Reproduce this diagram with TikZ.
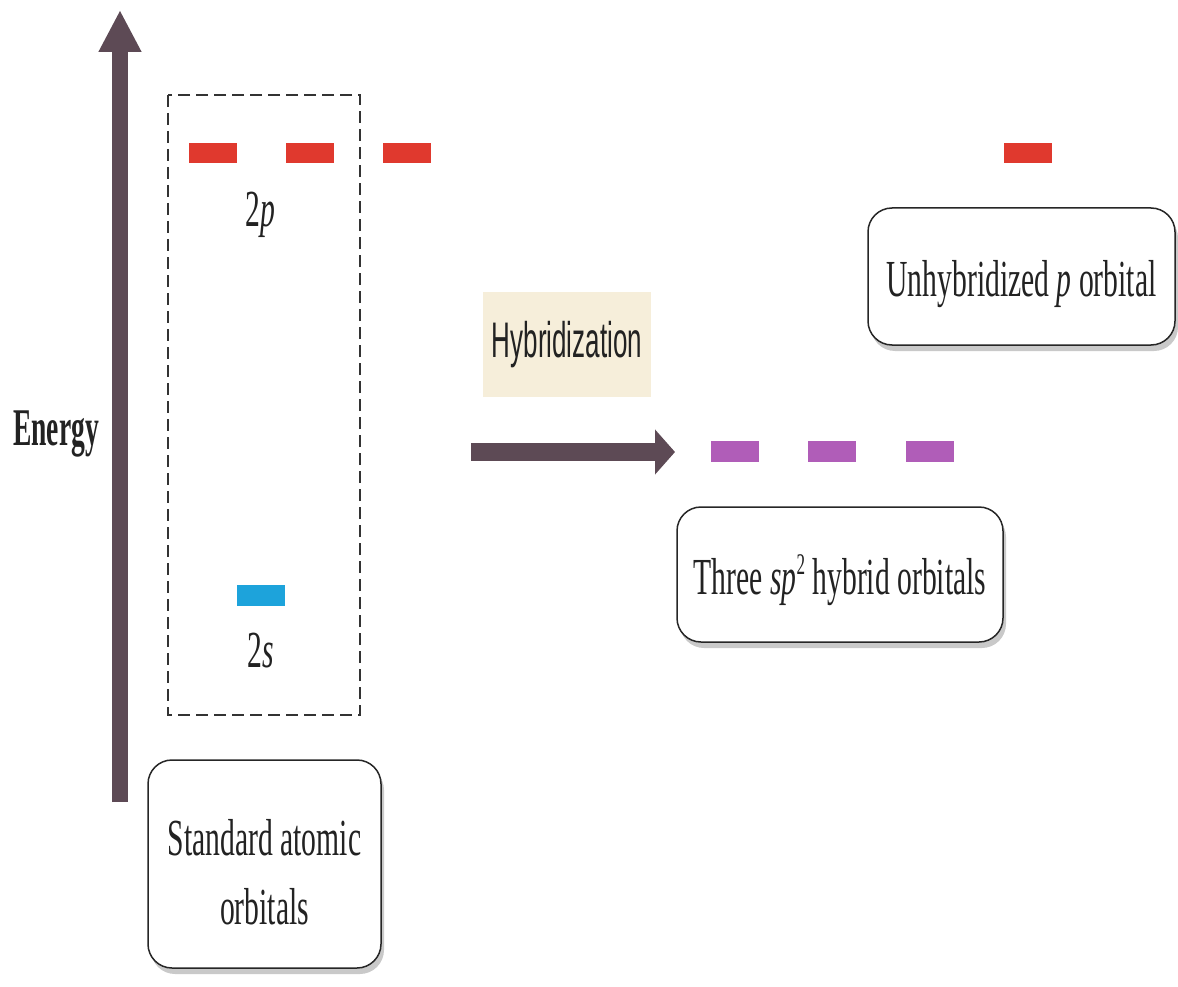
\documentclass[tikz,border=0pt]{standalone}
\usepackage{fontspec}
\setmainfont{Liberation Serif}[FakeStretch=0.57]
\newfontfamily\hybfont{Liberation Sans}[FakeStretch=0.52]
\newfontfamily\energyfont{Liberation Serif}[FakeStretch=0.52]
\usetikzlibrary{arrows.meta,shadows}
\definecolor{arrowc}{HTML}{5D4A55}
\definecolor{redc}{HTML}{E0392E}
\definecolor{bluec}{HTML}{1DA3DB}
\definecolor{purc}{HTML}{B05DB8}
\definecolor{beigec}{HTML}{F6EEDA}
\definecolor{txtc}{HTML}{222222}
\newcommand{\pushdown}{\rule{0pt}{52pt}}
\newcommand{\suptwo}{\raisebox{20pt}{\fontsize{30}{30}\selectfont 2}}
\tikzset{
  bar/.style={inner sep=0pt, minimum width=48pt, minimum height=20pt, draw=none},
  labelbox/.style={draw=black!85, line width=1.5pt, rounded corners=24pt, fill=white,
    inner sep=0pt, align=center, text=txtc,
    drop shadow={shadow xshift=3pt, shadow yshift=-6pt, opacity=0.3, fill=black!70},
    font=\fontsize{52}{69}\selectfont},
  lbl/.style={inner sep=0pt, anchor=base, text=txtc, font=\fontsize{52}{60}\selectfont},
  bigarrow/.style={draw=arrowc, color=arrowc},
}
\begin{document}
\begin{tikzpicture}[x=1pt,y=-1pt]
\useasboundingbox (0,0) rectangle (1178,987);
% vertical energy arrow
\coordinate (vb) at (120,802);
\coordinate (vt) at (120,10);
\draw[bigarrow, line width=16pt, -{Triangle[width=40pt,length=42pt]}] (vb) -- (vt);
\node[lbl, font=\energyfont\bfseries\fontsize{53}{60}\selectfont] (energy) at (56,445) {Energy};
% dashed box
\draw[black!80, line width=2.5pt, dash pattern=on 12pt off 6pt] (168,95) rectangle (360,715);
% 2p bars
\node[bar, fill=redc] (p1) at (213,153) {};
\node[bar, fill=redc] (p2) at (310,153) {};
\node[bar, fill=redc] (p3) at (407,153) {};
\node[lbl] (lab2p) at (260,227) {2\textit{p}};
% 2s bar
\node[bar, fill=bluec, minimum height=21pt] (s1) at (261,595) {};
\node[lbl] (lab2s) at (261,667) {2\textit{s}};
% standard box
\node[labelbox, minimum width=233pt, minimum height=208pt] (std) at (264.5,864) {\pushdown Standard atomic\\orbitals};
% hybridization label
\node[fill=beigec, minimum width=168pt, minimum height=105pt, inner sep=0pt, text=txtc,
  font=\hybfont\fontsize{50}{60}\selectfont] (hyb) at (567,344.5) {Hybridization};
% horizontal arrow
\coordinate (ha) at (471,452);
\coordinate (hb) at (675,452);
\draw[bigarrow, line width=18pt, -{Triangle[width=44pt,length=20pt]}] (ha) -- (hb);
% sp2 bars
\node[bar, fill=purc, minimum height=21pt] (h1) at (735,451.5) {};
\node[bar, fill=purc, minimum height=21pt] (h2) at (832,451.5) {};
\node[bar, fill=purc, minimum height=21pt] (h3) at (930,451.5) {};
\node[labelbox, minimum width=326pt, minimum height=135pt] (three) at (840,574.5) {\pushdown Three \textit{sp}\suptwo\ hybrid orbitals};
% unhybridized p
\node[bar, fill=redc] (pu) at (1028,153) {};
\node[labelbox, minimum width=307pt, minimum height=137pt] (unh) at (1021.5,276.5) {\pushdown Unhybridized \textit{p} orbital};
\end{tikzpicture}
\end{document}
